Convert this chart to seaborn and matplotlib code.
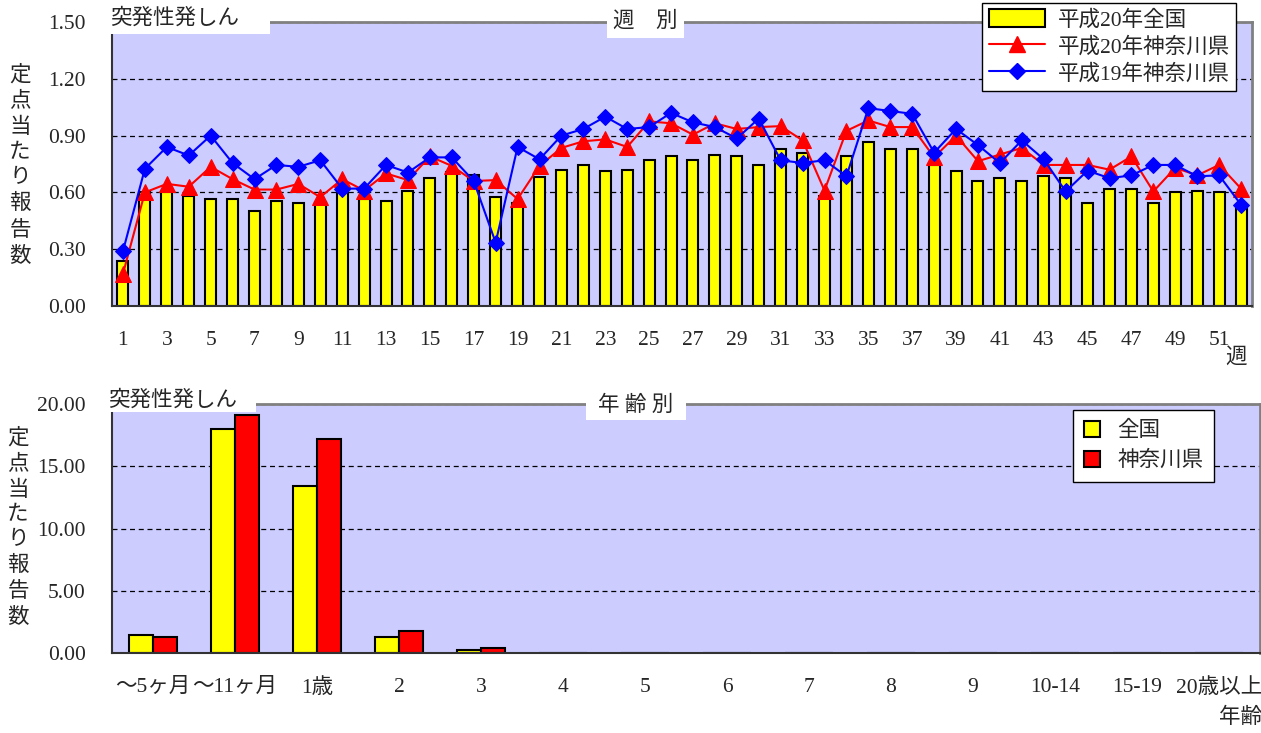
import numpy as np
import pandas as pd
import matplotlib
matplotlib.use('Agg')
import matplotlib.pyplot as plt
import seaborn as sns
from matplotlib.patches import Rectangle, Patch
from matplotlib.lines import Line2D

# 週別データ
semanas = list(range(1, 53))
zenkoku_h20 = [0.24, 0.60, 0.60, 0.58, 0.565, 0.565, 0.50, 0.555, 0.545, 0.55,
               0.61, 0.565, 0.555, 0.61, 0.675, 0.71, 0.69, 0.575, 0.545, 0.68,
               0.72, 0.745, 0.715, 0.72, 0.77, 0.79, 0.77, 0.80, 0.79, 0.745,
               0.83, 0.81, 0.58, 0.79, 0.865, 0.83, 0.83, 0.745, 0.715, 0.66,
               0.675, 0.66, 0.685, 0.675, 0.545, 0.62, 0.62, 0.545, 0.60, 0.61,
               0.60, 0.53]
kanagawa_h20 = [0.17, 0.60, 0.645, 0.63, 0.735, 0.67, 0.615, 0.615, 0.645, 0.575,
                0.67, 0.61, 0.70, 0.665, 0.79, 0.74, 0.66, 0.665, 0.565, 0.74,
                0.835, 0.87, 0.88, 0.84, 0.975, 0.965, 0.905, 0.965, 0.935, 0.945,
                0.95, 0.875, 0.61, 0.925, 0.98, 0.945, 0.945, 0.785, 0.90, 0.765,
                0.80, 0.835, 0.745, 0.745, 0.745, 0.72, 0.79, 0.605, 0.73, 0.69,
                0.745, 0.62]
kanagawa_h19 = [0.29, 0.725, 0.84, 0.795, 0.90, 0.755, 0.67, 0.745, 0.735, 0.77,
                0.62, 0.62, 0.745, 0.705, 0.785, 0.785, 0.66, 0.335, 0.84, 0.775,
                0.90, 0.935, 1.00, 0.935, 0.945, 1.02, 0.97, 0.945, 0.885, 0.99,
                0.77, 0.755, 0.77, 0.685, 1.045, 1.03, 1.015, 0.81, 0.935, 0.85,
                0.755, 0.875, 0.775, 0.605, 0.715, 0.675, 0.69, 0.745, 0.745, 0.685,
                0.69, 0.535]

# 年齢別データ
idades = ['～5ヶ月', '～11ヶ月', '1歳', '2', '3', '4', '5', '6', '7', '8', '9',
          '10-14', '15-19', '20歳以上']
zenkoku_idade = [1.45, 17.98, 13.4, 1.29, 0.24, 0, 0, 0, 0, 0, 0, 0, 0, 0]
kanagawa_idade = [1.29, 19.1, 17.2, 1.8, 0.38, 0, 0, 0, 0, 0, 0, 0, 0, 0]

sns.set_style("white")
plt.rcParams['font.family'] = ['Liberation Serif', 'Noto Sans CJK JP']

W, H = 1261, 733
fig = plt.figure(figsize=(W / 100, H / 100), dpi=100)
fundo = '#CCCCFF'


def eixo(x0, y0, x1, y1):
    return fig.add_axes([x0 / W, 1 - y1 / H, (x1 - x0) / W, (y1 - y0) / H])


def estilo(ax):
    ax.set_facecolor(fundo)
    for s in ['top', 'right']:
        ax.spines[s].set_color('#808080')
        ax.spines[s].set_linewidth(2)
    for s in ['left', 'bottom']:
        ax.spines[s].set_color('#333333')
        ax.spines[s].set_linewidth(1.5)
    ax.yaxis.grid(True, color='black', linestyle=(0, (4, 3)), linewidth=0.9)
    ax.set_axisbelow(True)
    ax.tick_params(axis='y', direction='in', length=5, width=1, color='#333333',
                   labelsize=15.5, pad=19)
    ax.tick_params(axis='x', which='major', length=0, labelsize=15.5, pad=18)
    ax.tick_params(axis='x', which='minor', direction='in', length=5, width=1,
                   color='#555555')
    ax.set_xlabel('')
    ax.set_ylabel('')


# ---------- 週別 ----------
ax1 = eixo(112, 22, 1252, 306)
sns.barplot(x=semanas, y=zenkoku_h20, native_scale=True, width=0.5,
            color='#FFFF00', edgecolor='black', linewidth=1.5, saturation=1,
            errorbar=None, ax=ax1)
sns.lineplot(x=semanas, y=kanagawa_h20, color='#FF0000', linewidth=1.5,
             marker='^', markersize=11, markeredgecolor='#FF0000', ax=ax1)
sns.lineplot(x=semanas, y=kanagawa_h19, color='#0000FF', linewidth=1.5,
             marker='D', markersize=8, markeredgecolor='#0000FF', ax=ax1)
ax1.set_xlim(0.5, 52.5)
ax1.set_ylim(0, 1.5)
ax1.set_yticks(np.arange(0, 1.51, 0.3))
ax1.set_yticklabels([f'{v:.2f}' for v in np.arange(0, 1.51, 0.3)])
ax1.set_xticks(semanas[::2])
ax1.set_xticklabels([str(s) for s in semanas[::2]])
ax1.set_xticks(np.arange(0.5, 53, 1), minor=True)
estilo(ax1)

h1 = [Patch(facecolor='#FFFF00', edgecolor='black', linewidth=1.5),
      Line2D([], [], color='#FF0000', lw=1.5, marker='^', markersize=11),
      Line2D([], [], color='#0000FF', lw=1.5, marker='D', markersize=8)]
fig.legend(h1, ['平成20年全国', '平成20年神奈川県', '平成19年神奈川県'],
           loc='upper right', bbox_to_anchor=(1236 / W, 1 - 3 / H),
           fontsize=15.5, frameon=True, fancybox=False, edgecolor='black',
           framealpha=1, handlelength=2.6, handleheight=0.9,
           borderpad=0.3, labelspacing=0.25, handletextpad=0.6,
           borderaxespad=0)

# ---------- 年齢別 ----------
ax2 = eixo(112, 404, 1260, 653)
df_idade = pd.DataFrame({
    'idade': idades * 2,
    'valor': zenkoku_idade + kanagawa_idade,
    'grupo': ['全国'] * len(idades) + ['神奈川県'] * len(idades),
})
sns.barplot(data=df_idade, x='idade', y='valor', hue='grupo', order=idades,
            palette=['#FFFF00', '#FF0000'], edgecolor='black', linewidth=1.5,
            saturation=1, width=0.58, errorbar=None, legend=False, ax=ax2)
ax2.set_xlim(-0.5, len(idades) - 0.5)
ax2.set_ylim(0, 20)
ax2.set_yticks(np.arange(0, 20.1, 5))
ax2.set_yticklabels([f'{v:.2f}' for v in np.arange(0, 20.1, 5)])
ax2.set_xticks(np.arange(-0.5, len(idades), 1), minor=True)
estilo(ax2)
ax2.tick_params(axis='x', which='major', pad=18)

h2 = [Patch(facecolor='#FFFF00', edgecolor='black', linewidth=1.5),
      Patch(facecolor='#FF0000', edgecolor='black', linewidth=1.5)]
fig.legend(h2, ['全国', '神奈川県'], loc='upper right',
           bbox_to_anchor=(1214 / W, 1 - 410 / H), fontsize=15.5, frameon=True,
           fancybox=False, edgecolor='black', framealpha=1,
           handlelength=0.75, handleheight=0.75, borderpad=0.5,
           labelspacing=0.45, handletextpad=0.8, borderaxespad=0)

# ---------- 文字ラベル ----------
def caixa(x0, y0, x1, y1):
    fig.patches.append(Rectangle((x0 / W, 1 - y1 / H), (x1 - x0) / W,
                                 (y1 - y0) / H, transform=fig.transFigure,
                                 facecolor='white', edgecolor='none', zorder=2))


caixa(106, 4, 270, 34)
fig.text(110 / W, 1 - 19 / H, '突発性発しん', fontsize=15.5, va='center', ha='left')
caixa(607, 6, 684, 38)
fig.text(645 / W, 1 - 22 / H, '週　別', fontsize=15.5, va='center', ha='center')

caixa(106, 388, 256, 412)
fig.text(108 / W, 1 - 401 / H, '突発性発しん', fontsize=15.5, va='center', ha='left')
caixa(586, 392, 686, 420)
fig.text(636 / W, 1 - 406 / H, '年 齢 別', fontsize=15.5, va='center', ha='center')

rotulo_y = '\n'.join('定点当たり報告数')
fig.text(20 / W, 1 - 166 / H, rotulo_y, fontsize=15.5, va='center', ha='center',
         linespacing=1.42)
fig.text(18 / W, 1 - 528 / H, rotulo_y, fontsize=15.5, va='center', ha='center',
         linespacing=1.40)

fig.text(1236 / W, 1 - 358 / H, '週', fontsize=15.5, va='center', ha='center')
fig.text(1240 / W, 1 - 718 / H, '年齢', fontsize=15.5, va='center', ha='center')

fig.savefig('out.png', dpi=100)
